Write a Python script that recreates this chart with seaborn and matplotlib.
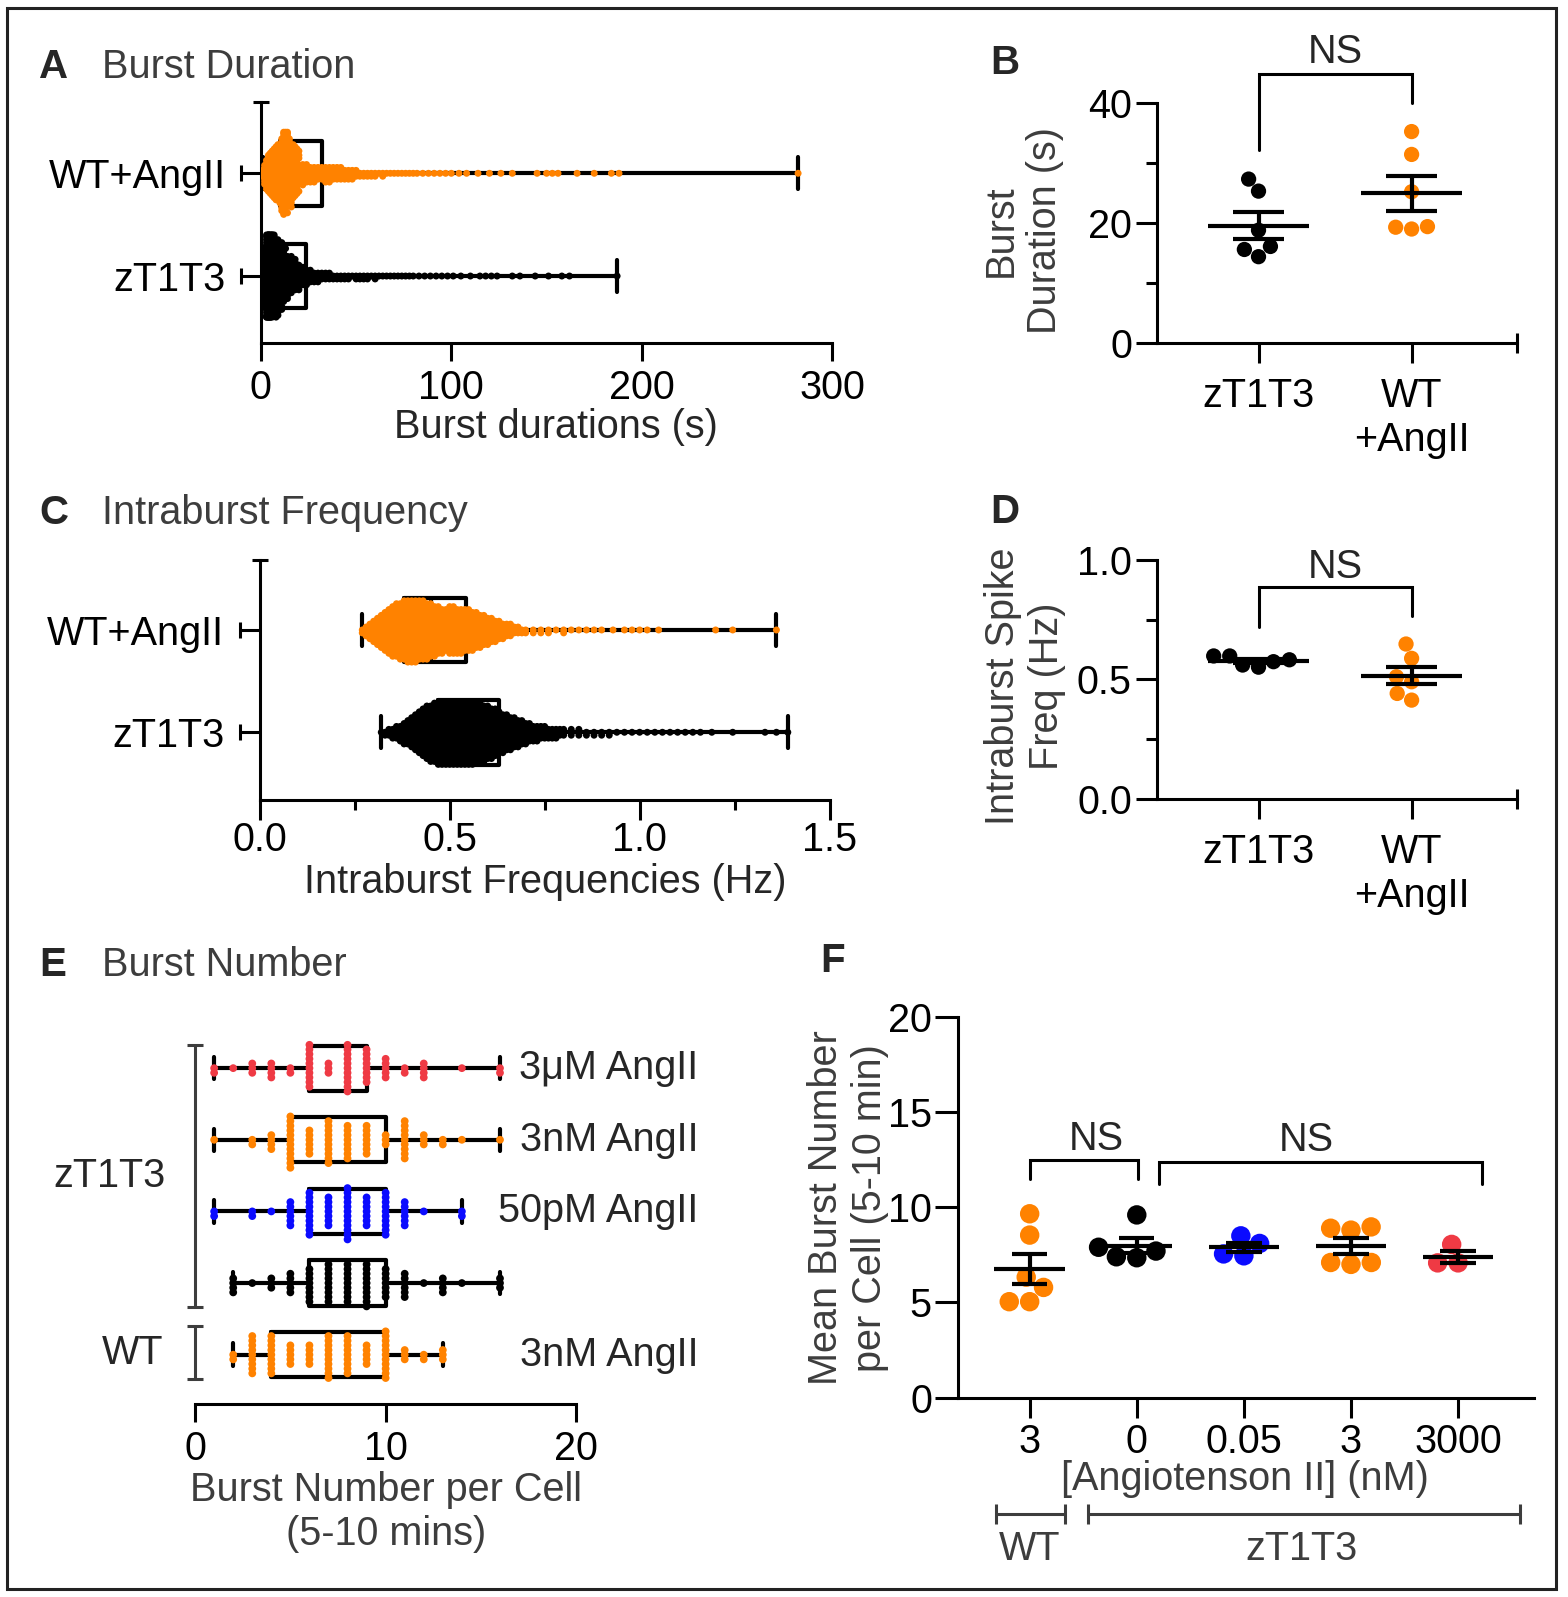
import numpy as np
import pandas as pd
import matplotlib
matplotlib.use('Agg')
import matplotlib.pyplot as plt
import seaborn as sns
from matplotlib.patches import Rectangle

ORANGE = '#ff8200'
BLUE = '#0b0bff'
RED = '#ef3a44'
GREY = '#3d3d3d'
FS = 28.5

# ---------------- A: burst durations (s), swarm read as value / count ----------------
dur_wt_vals = [1, 2, 3, 4, 5, 6, 7, 8, 9, 10, 11, 12, 13, 14, 15, 16, 17, 18, 19, 20,
               22, 24, 26, 28, 30, 32, 34, 36, 38, 40, 42, 44, 46, 48, 50,
               52, 54, 56, 58, 60, 62, 64, 66, 68, 70, 72, 74, 76, 78, 80, 82, 85, 88, 91,
               94, 97, 100, 104,
               108, 114, 120, 126, 132, 145, 150, 153, 156, 166, 175, 184, 188, 282]
dur_wt_counts = [3, 5, 7, 8, 9, 10, 11, 12, 12, 13, 17, 18, 18, 17, 15, 14, 12, 11, 10, 9,
                 8, 7, 6, 6, 5, 5, 6, 6, 5, 5, 5, 4, 4, 4, 3,
                 2, 2, 2, 2, 2, 1, 2, 1, 1, 1, 1, 1, 1, 1, 1, 1, 1, 1, 1,
                 1, 1, 1, 1,
                 1, 1, 1, 1, 1, 1, 1, 1, 1, 1, 1, 1, 1, 1]
dur_zt_vals = [1, 2, 3, 4, 5, 6, 7, 8, 9, 10, 11, 12, 13, 14, 15, 16, 17, 18, 19, 20,
               22, 24, 26, 28, 30, 32, 34, 36, 38, 40, 42, 44, 46, 48, 50,
               52, 54, 56, 58, 60, 62, 64, 66, 68, 70, 72, 74, 76, 78, 80, 83, 86, 89,
               92, 95, 98, 101,
               105, 110, 115, 118, 121, 124, 132, 136, 144, 151, 158, 162, 187]
dur_zt_counts = [8, 14, 18, 20, 20, 17, 16, 15, 14, 13, 12, 11, 9, 8, 7, 7, 6, 6, 5, 5,
                 7, 6, 5, 4, 4, 3, 3, 3, 2, 2, 2, 2, 2, 1, 2,
                 2, 2, 2, 1, 2, 1, 1, 1, 1, 1, 1, 1, 1, 1, 1, 1, 1, 1,
                 1, 1, 1, 1,
                 1, 1, 1, 1, 1, 1, 1, 1, 1, 1, 1, 1, 1]

# ---------------- C: intraburst frequencies (Hz) ----------------
freq_wt_vals = [0.27, 0.28, 0.29, 0.30, 0.31, 0.32, 0.33, 0.34, 0.35, 0.36, 0.37, 0.38,
                0.39, 0.40, 0.41, 0.42, 0.43, 0.44, 0.45, 0.46, 0.47, 0.48, 0.49, 0.50,
                0.51, 0.52, 0.53, 0.54, 0.55, 0.56, 0.57, 0.58, 0.59, 0.60, 0.61, 0.62,
                0.63, 0.64, 0.65, 0.66, 0.67, 0.68, 0.69, 0.70,
                0.72, 0.74, 0.76, 0.78, 0.80, 0.82, 0.84, 0.86, 0.88, 0.90, 0.93, 0.96,
                0.98, 1.00, 1.02, 1.05, 1.20, 1.245, 1.36]
freq_wt_counts = [2, 4, 6, 8, 10, 12, 14, 16, 18, 19, 20, 21,
                  22, 22, 22, 21, 21, 20, 19, 18, 17, 16, 15, 17,
                  17, 16, 16, 15, 15, 14, 13, 12, 11, 10, 9, 8,
                  7, 6, 5, 5, 3, 3, 2, 2,
                  2, 2, 2, 1, 2, 1, 1, 1, 1, 1, 1, 1,
                  1, 1, 1, 1, 1, 1, 1]
freq_zt_vals = [0.32, 0.33, 0.34, 0.35, 0.36, 0.37, 0.38, 0.39, 0.40, 0.41,
                0.42, 0.43, 0.44, 0.45, 0.46, 0.47, 0.48, 0.49, 0.50, 0.51,
                0.52, 0.53, 0.54, 0.55, 0.56, 0.57, 0.58, 0.59, 0.60, 0.61,
                0.62, 0.63, 0.64, 0.65, 0.66, 0.67, 0.68, 0.69, 0.70, 0.71,
                0.72, 0.73, 0.74, 0.75, 0.76, 0.77, 0.78, 0.79, 0.80,
                0.82, 0.84, 0.86, 0.88, 0.90, 0.92, 0.94, 0.96, 0.98, 1.00, 1.02,
                1.04, 1.06, 1.08, 1.10, 1.12, 1.14, 1.16, 1.19, 1.245, 1.33, 1.36, 1.39]
freq_zt_counts = [1, 2, 3, 4, 5, 6, 8, 9, 11, 13,
                  15, 17, 19, 20, 21, 22, 22, 22, 22, 22,
                  22, 22, 22, 22, 22, 21, 21, 20, 19, 18,
                  17, 15, 14, 13, 12, 11, 10, 9, 8, 7,
                  6, 6, 5, 5, 4, 4, 4, 3, 3,
                  3, 3, 2, 2, 2, 2, 1, 1, 1, 1, 1,
                  1, 1, 1, 1, 1, 1, 1, 1, 1, 1, 1, 1]

# ---------------- B / D: per-cell means ----------------
pair_order = ['zT1T3', 'WT+AngII']
dur_cell_zt = [27.3, 25.3, 18.8, 16.1, 15.6, 14.4]
dur_cell_wt = [35.2, 31.4, 25.2, 19.0, 19.4, 19.3]
freq_cell_zt = [0.56, 0.598, 0.574, 0.598, 0.551, 0.582]
freq_cell_wt = [0.648, 0.588, 0.511, 0.49, 0.441, 0.413]

# ---------------- E: burst number per cell, counts at 1..16 ----------------
e_order = ['zT 3uM', 'zT 3nM', 'zT 50pM', 'zT 0', 'WT 3nM']
e_right_labels = ['3\u03bcM AngII', '3nM AngII', '50pM AngII', '', '3nM AngII']
e_vals = [1, 2, 3, 4, 5, 6, 7, 8, 9, 10, 11, 12, 13, 14, 15, 16]
e_counts_zt_3um = [2, 1, 3, 4, 2, 10, 3, 11, 8, 5, 2, 4, 0, 1, 0, 2]
e_counts_zt_3nm = [1, 0, 2, 4, 12, 6, 10, 8, 7, 3, 9, 3, 2, 1, 0, 1]
e_counts_zt_50pm = [2, 0, 2, 1, 6, 10, 7, 12, 7, 10, 6, 1, 0, 2, 0, 0]
e_counts_zt_0 = [0, 4, 1, 3, 5, 8, 9, 9, 10, 7, 6, 1, 4, 1, 0, 3]
e_counts_wt_3nm = [0, 2, 9, 9, 5, 5, 10, 9, 5, 11, 3, 2, 3, 0, 0, 0]

# ---------------- F: mean burst number per cell ----------------
f_order = ['WT 3', 'zT 0', 'zT 0.05', 'zT 3', 'zT 3000']
f_ticklabels = ['3', '0', '0.05', '3', '3000']
f_wt_3 = [9.66, 8.54, 6.33, 5.79, 5.04, 5.04]
f_zt_0 = [9.6, 7.4, 7.7, 7.35, 7.9]
f_zt_005 = [7.55, 8.5, 7.45, 8.1]
f_zt_3 = [8.9, 8.8, 8.97, 7.0, 7.1, 7.1]
f_zt_3000 = [8.05, 7.08, 7.08]

# ---------------- style ----------------
sns.set_theme(style='ticks')
plt.rcParams['font.family'] = ['Liberation Sans', 'DejaVu Sans']
plt.rcParams['font.size'] = FS
plt.rcParams['axes.linewidth'] = 2.2

W, H = 1568, 1597
fig = plt.figure(figsize=(W / 100, H / 100), dpi=100)
fig.add_artist(Rectangle((7 / W, 1 - 1589 / H), 1549 / W, 1581 / H, transform=fig.transFigure,
                         fill=False, lw=2.2, ec='#222222'))


def add_ax(x0, y0, x1, y1):
    return fig.add_axes([x0 / W, 1 - y1 / H, (x1 - x0) / W, (y1 - y0) / H])


def ftext(x, y, s, **kw):
    fig.text(x / W, 1 - y / H, s, **kw)


def style(ax):
    for s in ['top', 'right']:
        ax.spines[s].set_visible(False)
    for s in ['left', 'bottom']:
        ax.spines[s].set_linewidth(2.2)
        ax.spines[s].set_color('black')
    ax.tick_params(which='both', width=2.2, color='black', labelcolor='black', labelsize=FS)
    ax.set_xlabel('')
    ax.set_ylabel('')


swarms = []


def swarm(ax, vis, **kw):
    n0 = len(ax.collections)
    sns.swarmplot(ax=ax, legend=False, linewidth=0, warn_thresh=1, zorder=3, **kw)
    swarms.extend((c, vis) for c in ax.collections[n0:])


def mean_sem(ax, df, order, half=0.33):
    st = df.groupby('group')['value'].agg(['mean', 'sem']).loc[order]
    kw = dict(color='black', lw=3, zorder=4, solid_capstyle='butt')
    for i, (m, s) in enumerate(zip(st['mean'], st['sem'])):
        ax.plot([i - half, i + half], [m, m], **kw)
        ax.plot([i, i], [m - s, m + s], **kw)
        ax.plot([i - half / 2, i + half / 2], [m + s, m + s], **kw)
        ax.plot([i - half / 2, i + half / 2], [m - s, m - s], **kw)


def bracket(ax, x0, x1, ytop, yl, yr):
    ax.plot([x0, x0, x1, x1], [yl, ytop, ytop, yr], color='black', lw=2.2,
            clip_on=False, solid_joinstyle='miter')


def long_df(groups, vals_list, counts_list):
    parts = []
    for g, v, c in zip(groups, vals_list, counts_list):
        parts.append(pd.DataFrame({'group': g, 'value': np.repeat(v, c)}))
    return pd.concat(parts, ignore_index=True)


def y_caps(ax, width_px, ytop, ncat):
    tr = ax.get_yaxis_transform()
    ax.plot([-20 / width_px] * ncat, list(range(ncat)), ls='none', marker='|', ms=11,
            mew=2.2, color='black', transform=tr, clip_on=False)
    ax.plot([0], [ytop], ls='none', marker='_', ms=12, mew=2.2, color='black',
            transform=tr, clip_on=False)


pal2 = {'WT+AngII': ORANGE, 'zT1T3': 'black'}
hz_order = ['WT+AngII', 'zT1T3']

# ---------------- panel A ----------------
axA = add_ax(260.8, 101.7, 832.4, 342.7)
dfA = long_df(hz_order, [dur_wt_vals, dur_zt_vals], [dur_wt_counts, dur_zt_counts])
sns.boxplot(data=dfA, x='value', y='group', order=hz_order, whis=(0, 100), width=0.63,
            fill=False, color='black', linewidth=3, showfliers=False, ax=axA)
swarm(axA, 5, data=dfA, x='value', y='group', order=hz_order, hue='group', palette=pal2, size=2)
style(axA)
axA.set_xlim(0, 300)
axA.set_ylim(1.649, -0.697)
axA.set_xticks([0, 100, 200, 300])
axA.set_yticks([0, 1], hz_order)
axA.tick_params(axis='x', length=13, pad=6)
axA.tick_params(axis='y', length=14.4, pad=11)
y_caps(axA, 571.6, -0.697, 2)

# ---------------- panel C ----------------
axC = add_ax(259.7, 560, 829.6, 800)
dfC = long_df(hz_order, [freq_wt_vals, freq_zt_vals], [freq_wt_counts, freq_zt_counts])
sns.boxplot(data=dfC, x='value', y='group', order=hz_order, whis=(0, 100), width=0.63,
            fill=False, color='black', linewidth=3, showfliers=False, ax=axC)
swarm(axC, 5, data=dfC, x='value', y='group', order=hz_order, hue='group', palette=pal2, size=2)
style(axC)
axC.set_xlim(0, 1.5)
axC.set_ylim(1.662, -0.684)
axC.set_xticks([0, 0.5, 1.0, 1.5], ['0.0', '0.5', '1.0', '1.5'])
axC.set_xticks([0.25, 0.75, 1.25], minor=True)
axC.set_yticks([0, 1], hz_order)
axC.tick_params(axis='x', which='major', length=14.4, pad=1)
axC.tick_params(axis='x', which='minor', length=7.5)
axC.tick_params(axis='y', length=14.4, pad=11)
y_caps(axC, 569.9, -0.684, 2)

# ---------------- panel B ----------------
axB = add_ax(1157, 102.7, 1516.8, 343.3)
dfB = long_df(pair_order, [dur_cell_zt, dur_cell_wt], [1, 1])
swarm(axB, 11, data=dfB, x='group', y='value', order=pair_order, hue='group',
      palette=pal2, size=11)
mean_sem(axB, dfB, pair_order)
style(axB)
axB.set_xlim(-0.663, 1.687)
axB.set_ylim(0, 40)
axB.set_xticks([0, 1], ['zT1T3', 'WT\n+AngII'])
axB.set_yticks([0, 20, 40])
axB.set_yticks([10, 30], minor=True)
axB.tick_params(axis='x', length=14.4, pad=10)
axB.tick_params(axis='y', which='major', length=15, pad=3)
axB.tick_params(axis='y', which='minor', length=8)
axB.plot([1.687], [0], ls='none', marker='|', ms=14.4, mew=2.2, color='black', clip_on=False)
bracket(axB, 0, 1, 44.7, 32.1, 40.0)
axB.text(0.5, 48.5, 'NS', ha='center', va='center', fontsize=FS)

# ---------------- panel D ----------------
axD = add_ax(1157, 560, 1516.8, 798.7)
dfD = long_df(pair_order, [freq_cell_zt, freq_cell_wt], [1, 1])
swarm(axD, 11, data=dfD, x='group', y='value', order=pair_order, hue='group',
      palette=pal2, size=11)
mean_sem(axD, dfD, pair_order)
style(axD)
axD.set_xlim(-0.663, 1.687)
axD.set_ylim(0, 1)
axD.set_xticks([0, 1], ['zT1T3', 'WT\n+AngII'])
axD.set_yticks([0, 0.5, 1.0], ['0.0', '0.5', '1.0'])
axD.set_yticks([0.25, 0.75], minor=True)
axD.tick_params(axis='x', length=14.4, pad=10)
axD.tick_params(axis='y', which='major', length=15, pad=3)
axD.tick_params(axis='y', which='minor', length=8)
axD.plot([1.687], [0], ls='none', marker='|', ms=14.4, mew=2.2, color='black', clip_on=False)
bracket(axD, 0, 1, 0.886, 0.72, 0.765)
axD.text(0.5, 0.97, 'NS', ha='center', va='center', fontsize=FS)

# ---------------- panel E ----------------
axE = add_ax(195.1, 1018, 576.2, 1403.7)
dfE = long_df(e_order, [e_vals] * 5,
              [e_counts_zt_3um, e_counts_zt_3nm, e_counts_zt_50pm, e_counts_zt_0, e_counts_wt_3nm])
palE = {'zT 3uM': RED, 'zT 3nM': ORANGE, 'zT 50pM': BLUE, 'zT 0': 'black', 'WT 3nM': ORANGE}
sns.boxplot(data=dfE, x='value', y='group', order=e_order, whis=(0, 100), width=0.63,
            fill=False, color='black', linewidth=3, showfliers=False, ax=axE)
swarm(axE, 5.6, data=dfE, x='value', y='group', order=e_order, hue='group', palette=palE,
      size=3.2)
style(axE)
axE.spines['left'].set_visible(False)
axE.set_xlim(0, 20)
axE.set_ylim(4.684, -0.7)
axE.set_xticks([0, 10, 20])
axE.set_yticks([])
axE.tick_params(axis='x', length=13, pad=6)
for i, lab in enumerate(e_right_labels):
    axE.text(26.4, i, lab, ha='right', va='center', fontsize=FS, clip_on=False)
kwb = dict(color=GREY, lw=2.2, clip_on=False, solid_capstyle='butt')
for y0, y1 in [(-0.33, 3.33), (3.6, 4.34)]:
    axE.plot([0, 0], [y0, y1], **kwb)
    axE.plot([-0.45, 0.4], [y0, y0], **kwb)
    axE.plot([-0.45, 0.4], [y1, y1], **kwb)
axE.text(-1.55, 1.5, 'zT1T3', ha='right', va='center', fontsize=FS)
axE.text(-1.65, 3.97, 'WT', ha='right', va='center', fontsize=FS)

# ---------------- panel F ----------------
axF = add_ax(957.6, 1017, 1533.7, 1397.6)
dfF = long_df(f_order, [f_wt_3, f_zt_0, f_zt_005, f_zt_3, f_zt_3000], [1] * 5)
palF = {'WT 3': ORANGE, 'zT 0': 'black', 'zT 0.05': BLUE, 'zT 3': ORANGE, 'zT 3000': RED}
swarm(axF, 14, data=dfF, x='group', y='value', order=f_order, hue='group', palette=palF, size=14)
mean_sem(axF, dfF, f_order)
style(axF)
axF.set_xlim(-0.673, 4.706)
axF.set_ylim(0, 20)
axF.set_xticks(range(5), f_ticklabels)
axF.set_yticks([0, 5, 10, 15, 20])
axF.tick_params(axis='x', length=14.4, pad=4)
axF.tick_params(axis='y', length=16.5, pad=2)
bracket(axF, 0, 1.01, 12.49, 11.49, 11.49)
bracket(axF, 1.21, 4.22, 12.4, 11.2, 11.2)
axF.text(0.62, 13.6, 'NS', ha='center', va='center', fontsize=FS)
axF.text(2.58, 13.55, 'NS', ha='center', va='center', fontsize=FS)
for x0, x1 in [(-0.315, 0.326), (0.549, 4.576)]:
    axF.plot([x0, x1], [-6.12, -6.12], **kwb)
    axF.plot([x0, x0], [-6.65, -5.6], **kwb)
    axF.plot([x1, x1], [-6.65, -5.6], **kwb)
axF.text(0, -7.93, 'WT', ha='center', va='center', fontsize=FS, color=GREY)
axF.text(2.54, -7.93, 'zT1T3', ha='center', va='center', fontsize=FS, color=GREY)

# ---------------- titles and axis labels ----------------
for x, y, s in [(39, 66.7, 'A'), (990, 63, 'B'), (39, 513, 'C'), (990, 512, 'D'),
                (39, 965, 'E'), (820, 961, 'F')]:
    ftext(x, y, s, fontsize=29, fontweight='bold', ha='left', va='center')
for y, s in [(66.7, 'Burst Duration'), (513, 'Intraburst Frequency'), (965, 'Burst Number')]:
    ftext(102, y, s, fontsize=FS, color=GREY, ha='left', va='center')
ftext(556, 427, 'Burst durations (s)', ha='center', va='center', fontsize=FS)
ftext(545, 882, 'Intraburst Frequencies (Hz)', ha='center', va='center', fontsize=FS)
ftext(1023, 231, 'Burst\nDuration (s)', rotation=90, ha='center', va='center',
      multialignment='center', fontsize=FS, color=GREY)
ftext(1025, 686, 'Intraburst Spike\nFreq (Hz)', rotation=90, ha='center', va='center',
      multialignment='center', fontsize=FS, color=GREY)
ftext(386, 1512, 'Burst Number per Cell\n(5-10 mins)', ha='center', va='center',
      multialignment='center', fontsize=FS, color=GREY)
ftext(848, 1208, 'Mean Burst Number\nper Cell (5-10 min)', rotation=90, ha='center',
      va='center', multialignment='center', fontsize=FS, color=GREY)
ftext(1245, 1479, '[Angiotenson II] (nM)', ha='center', va='center', fontsize=FS, color=GREY)

# place the swarms once, then freeze them and enlarge the markers so they overlap
fig.canvas.draw()
for coll, vis in swarms:
    if 'draw' in coll.__dict__:
        del coll.draw
    coll.set_sizes([vis ** 2])

fig.savefig('out.png', dpi=100)
